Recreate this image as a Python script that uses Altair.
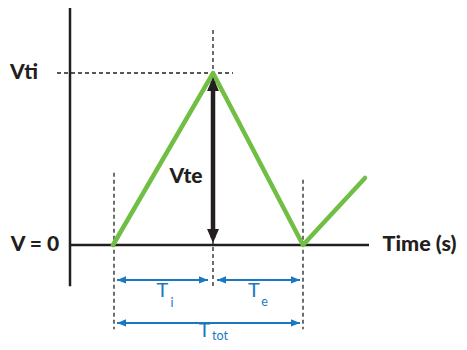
import altair as alt
import pandas as pd

# ---- data (time in units of Ti, voltage in units of Vti) ----
wave_t = [0.0, 1.0, 1.9, 2.52]
wave_v = [0.0, 1.0, 0.0, 0.39]

# dashed guide lines
guide_t = [0.01, 1.0, 1.9, -0.56]
guide_t2 = [0.01, 1.0, 1.9, 1.2]
guide_v = [0.42, 1.25, 0.38, 1.0]
guide_v2 = [-0.49, -0.24, -0.49, 1.0]

# axis lines
axis_t = [-0.43, -0.43]
axis_t2 = [-0.43, 2.56]
axis_v = [1.39, 0.0]
axis_v2 = [-0.24, 0.0]

# black Vte double arrow
vte_t = [1.0]
vte_v1 = [0.95]
vte_v2 = [0.04]
vte_tip_top = [0.977]
vte_tip_bot = [0.012]

# blue time-span arrows
span_t1 = [0.04, 1.04, 0.04]
span_t2 = [0.95, 1.87, 1.87]
span_v = [-0.203, -0.203, -0.453]

# black bold labels
lab_text = ["Vti", "V = 0", "Time (s)", "Vte"]
lab_t = [-0.89, -0.78, 3.065, 0.73]
lab_v = [1.0, 0.0, 0.0, 0.395]
lab_size = [21, 21, 21.5, 21]

# blue labels
t_text = ["T", "T", "T"]
t_t = [0.495, 1.41, 0.915]
t_v = [-0.27, -0.27, -0.5]
sub_text = ["i", "e", "tot"]
sub_t = [0.59, 1.515, 1.07]
sub_v = [-0.337, -0.331, -0.53]

BLACK = "#231f20"
GREEN = "#70bf44"
BLUE = "#1a78c2"

xs = alt.Scale(domain=[-1.05, 3.46], nice=False, zero=False)
ys = alt.Scale(domain=[-0.564, 1.378], nice=False, zero=False)

def X(f):
    return alt.X(f, type="quantitative", scale=xs, axis=None)

def Y(f):
    return alt.Y(f, type="quantitative", scale=ys, axis=None)

guides = alt.Chart(pd.DataFrame({"t": guide_t, "t2": guide_t2, "v": guide_v, "v2": guide_v2})).mark_rule(
    color=BLACK, strokeWidth=1.3, strokeDash=[4, 3]
).encode(x=X("t"), x2="t2", y=Y("v"), y2="v2")

axes = alt.Chart(pd.DataFrame({"t": axis_t, "t2": axis_t2, "v": axis_v, "v2": axis_v2})).mark_rule(
    color=BLACK, strokeWidth=2.5
).encode(x=X("t"), x2="t2", y=Y("v"), y2="v2")

wave = alt.Chart(pd.DataFrame({"t": wave_t, "v": wave_v})).mark_line(
    color=GREEN, strokeWidth=4.5, strokeJoin="round", strokeCap="round"
).encode(x=X("t"), y=Y("v"))

vte_df = pd.DataFrame({"t": vte_t, "v1": vte_v1, "v2": vte_v2, "top": vte_tip_top, "bot": vte_tip_bot})
vte_shaft = alt.Chart(vte_df).mark_rule(color=BLACK, strokeWidth=4.5).encode(x=X("t"), y=Y("v1"), y2="v2")
vte_up = alt.Chart(vte_df).mark_point(
    shape="M0,0L-0.85,2L0.85,2Z", filled=True, size=196, color=BLACK, opacity=1
).encode(x=X("t"), y=Y("top"))
vte_down = alt.Chart(vte_df).mark_point(
    shape="M0,0L-0.85,-2L0.85,-2Z", filled=True, size=196, color=BLACK, opacity=1
).encode(x=X("t"), y=Y("bot"))

span_df = pd.DataFrame({"t1": span_t1, "t2": span_t2, "v": span_v})
span_shaft = alt.Chart(span_df).mark_rule(color=BLUE, strokeWidth=2).encode(x=X("t1"), x2="t2", y=Y("v"))
span_left = alt.Chart(span_df).mark_point(
    shape="M0,0L2,-0.8L2,0.8Z", filled=True, size=81, color=BLUE, opacity=1
).encode(x=X("t1"), y=Y("v"))
span_right = alt.Chart(span_df).mark_point(
    shape="M0,0L-2,-0.8L-2,0.8Z", filled=True, size=81, color=BLUE, opacity=1
).encode(x=X("t2"), y=Y("v"))

labels = alt.Chart(pd.DataFrame({"t": lab_t, "v": lab_v, "s": lab_text, "fs": lab_size})).mark_text(
    font="Lato", fontWeight=900, color=BLACK, baseline="middle", align="center"
).encode(x=X("t"), y=Y("v"), text="s:N", size=alt.Size("fs:Q", scale=None, legend=None))

tlabels = alt.Chart(pd.DataFrame({"t": t_t, "v": t_v, "s": t_text})).mark_text(
    font="Lato", fontSize=20, color=BLUE, baseline="middle", align="center"
).encode(x=X("t"), y=Y("v"), text="s:N")

sublabels = alt.Chart(pd.DataFrame({"t": sub_t, "v": sub_v, "s": sub_text})).mark_text(
    font="Lato", fontSize=12.5, color=BLUE, baseline="middle", align="center"
).encode(x=X("t"), y=Y("v"), text="s:N")

chart = alt.layer(
    guides, axes, wave, vte_shaft, vte_up, vte_down,
    span_shaft, span_left, span_right, labels, tlabels, sublabels
).properties(
    width=451, height=334, padding=0, autosize=alt.AutoSizeParams(type="none")
).configure_view(strokeWidth=0)

chart.save("out.html", embed_options={"renderer": "svg", "actions": False})
